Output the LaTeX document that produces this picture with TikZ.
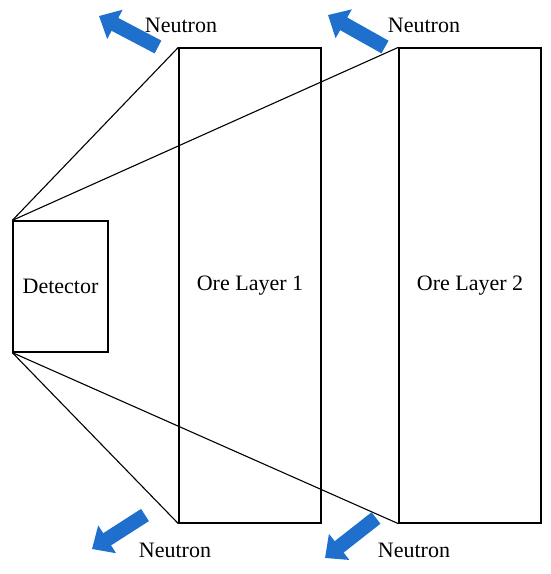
\documentclass[tikz,border=0pt]{standalone}
\usepackage{fontspec}
\setmainfont{Liberation Serif}
\usetikzlibrary{arrows.meta}
\definecolor{neublue}{RGB}{31,112,204}
\tikzset{
	boxnode/.style = {draw=black, line width=1.3pt, rectangle, inner sep=0pt,
		font=\fontsize{22}{26}\selectfont},
	det_box/.style = {boxnode, minimum width=95pt, minimum height=131pt},% detecteur
	ore_box/.style = {boxnode, minimum width=142pt, minimum height=475pt},% couche de minerai
	neu_lbl/.style = {inner sep=0pt, font=\fontsize{22}{26}\selectfont},% texte neutron
	neu_arrow/.style = {neublue, line width=14.5pt,
		-{Triangle[width=32pt,length=18pt]}}% fleche neutron
}
\begin{document}
\begin{tikzpicture}[x=1pt,y=-1pt]
	\useasboundingbox (0,0) rectangle (550,574);
	\node [det_box] (det) at (60.5,286.5) {Detector};
	\node [ore_box] (ore1) at (250,285.5) {Ore Layer 1};
	\node [ore_box] (ore2) at (470,285.5) {Ore Layer 2};
	% lignes de vue
	\draw [line width=1.1pt] (det.north west) -- (ore1.north west);
	\draw [line width=1.1pt] (det.north west) -- (ore2.north west);
	\draw [line width=1.1pt] (det.south west) -- (ore1.south west);
	\draw [line width=1.1pt] (det.south west) -- (ore2.south west);
	% neutrons
	\coordinate (a1s) at (158,47);  \coordinate (a1e) at (99,16);
	\coordinate (a2s) at (385,47);  \coordinate (a2e) at (328,15);
	\coordinate (a3s) at (145,515); \coordinate (a3e) at (92,549);
	\coordinate (a4s) at (376,518); \coordinate (a4e) at (325,558);
	\draw [neu_arrow] (a1s) -- (a1e);
	\draw [neu_arrow] (a2s) -- (a2e);
	\draw [neu_arrow] (a3s) -- (a3e);
	\draw [neu_arrow] (a4s) -- (a4e);
	\node [neu_lbl] (n1) at (181,25) {Neutron};
	\node [neu_lbl] (n2) at (424,25) {Neutron};
	\node [neu_lbl] (n3) at (175,550) {Neutron};
	\node [neu_lbl] (n4) at (414,550) {Neutron};
\end{tikzpicture}
\end{document}
